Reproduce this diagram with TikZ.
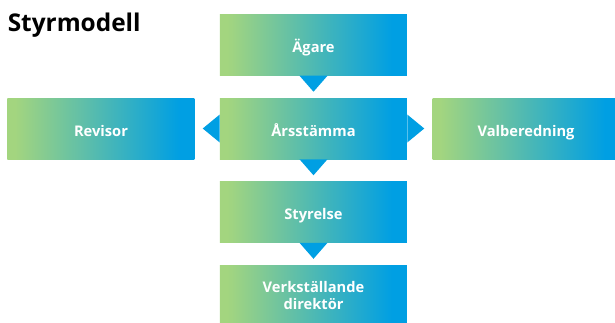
\documentclass[tikz,border=0pt]{standalone}
\usepackage{fontspec}
\setmainfont{Open Sans}
\usetikzlibrary{positioning}

\definecolor{boxgreen}{RGB}{163,213,127}
\definecolor{boxblue}{RGB}{0,159,227}
\pgfdeclarehorizontalshading{boxfade}{100bp}{color(0bp)=(boxgreen); color(27bp)=(boxgreen); color(71bp)=(boxblue); color(100bp)=(boxblue)}

\tikzset{
  orgbox/.style={shade, shading=boxfade, minimum width=140.25pt, minimum height=45.75pt,
    inner sep=0pt, text=white, align=center, text height=11.7pt, text depth=0pt,
    font=\bfseries\fontsize{11}{13.3}\selectfont},
  pointer/.style={fill=boxblue}
}

\begin{document}
\begin{tikzpicture}
        % Fix the page size
        \useasboundingbox (-235.125pt,-145.125pt) rectangle (226.125pt,96.375pt);

        % Title
        \node[anchor=base west, inner sep=0pt, font=\bfseries\fontsize{18.3}{20}\selectfont] (title) at (-229.5pt,72.6pt) {Styrmodell};

        % Boxes
        \node[orgbox] (stamma) at (0,0) {Årsstämma};
        \node[orgbox, above=16.5pt of stamma] (agare) {Ägare};
        \node[orgbox, below=16.5pt of stamma] (styrelse) {Styrelse};
        \node[orgbox, below=16.5pt of styrelse, text height=, text depth=] (vd) {Verkställande\\direktör};
        \node[orgbox, left=18.75pt of stamma] (revisor) {Revisor};
        \node[orgbox, right=18.75pt of stamma] (valberedning) {Valberedning};

        % Pointers between the boxes
        \fill[pointer] ([xshift=-10.5pt]agare.south) -- ([xshift=10.5pt]agare.south) -- ([yshift=-12pt]agare.south) -- cycle;
        \fill[pointer] ([xshift=-10.5pt]stamma.south) -- ([xshift=10.5pt]stamma.south) -- ([yshift=-12pt]stamma.south) -- cycle;
        \fill[pointer] ([xshift=-10.5pt]styrelse.south) -- ([xshift=10.5pt]styrelse.south) -- ([yshift=-12pt]styrelse.south) -- cycle;
        \fill[pointer] ([yshift=10.5pt]stamma.west) -- ([yshift=-10.5pt]stamma.west) -- ([xshift=-12.75pt]stamma.west) -- cycle;
        \fill[pointer] ([yshift=10.5pt]stamma.east) -- ([yshift=-10.5pt]stamma.east) -- ([xshift=12.75pt]stamma.east) -- cycle;
\end{tikzpicture}
\end{document}
